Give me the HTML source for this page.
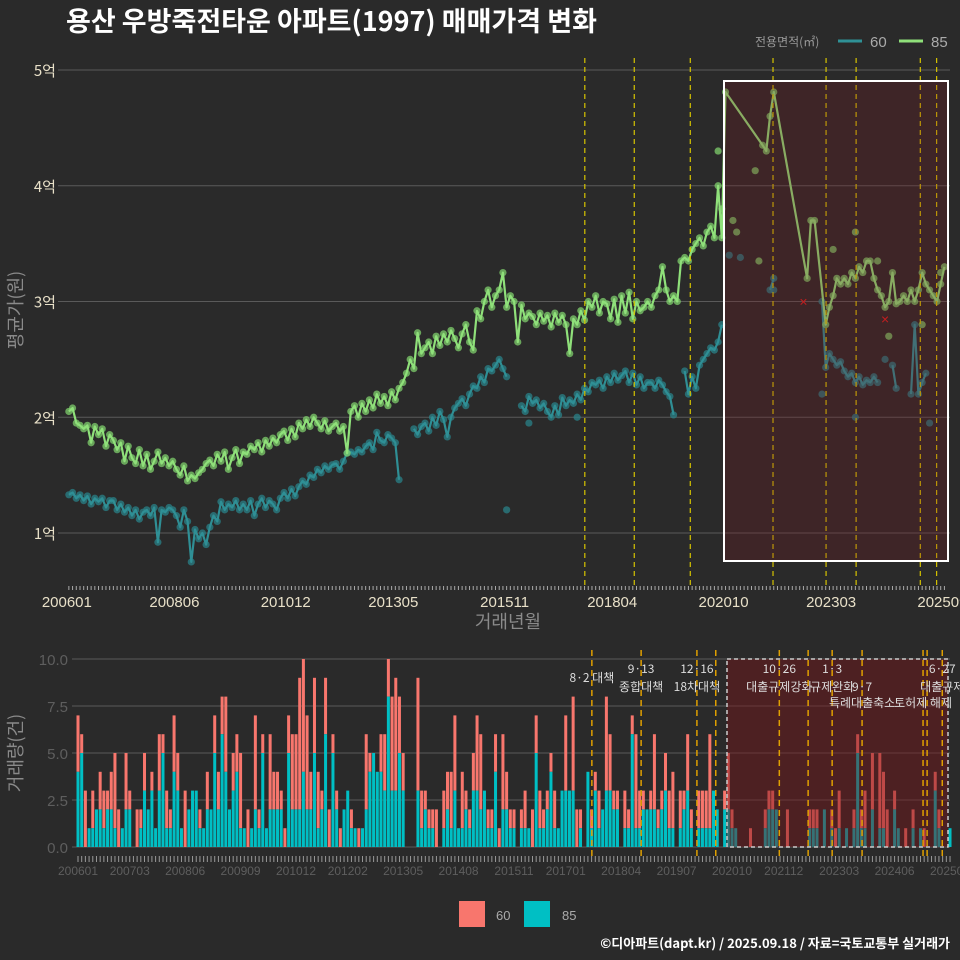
<!DOCTYPE html>
<html><head><meta charset="utf-8">
<style>
html,body{margin:0;padding:0;background:#2a2a2a;}
svg{display:block;font-family:"Liberation Sans","Noto Sans CJK KR",sans-serif;}
</style></head>
<body>
<svg id="chart" width="960" height="960" viewBox="0 0 960 960" xmlns="http://www.w3.org/2000/svg">
<rect x="0" y="0" width="960" height="960" fill="#2a2a2a"/>
<text x="66" y="31" font-size="27" font-weight="bold" fill="#ffffff" font-family="'Noto Sans CJK KR',sans-serif">용산 우방죽전타운 아파트(1997) 매매가격 변화</text>
<g>
<text x="755" y="46" font-size="12" fill="#999" font-family="'Noto Sans CJK KR',sans-serif">전용면적(㎡)</text>
<line x1="838" y1="41" x2="862" y2="41" stroke="#2f9196" stroke-width="3"/>
<text x="870" y="47" font-size="15" fill="#aaa">60</text>
<line x1="899" y1="41" x2="923" y2="41" stroke="#8fe07a" stroke-width="3"/>
<text x="931" y="47" font-size="15" fill="#aaa">85</text>
</g>
<g id="topPanel"></g>
<g id="botPanel"></g>
<g>
<rect x="459" y="901" width="26" height="26" fill="#f8766d"/>
<text x="496" y="920" font-size="13" fill="#aaa">60</text>
<rect x="524" y="901" width="26" height="26" fill="#00bfc4"/>
<text x="562" y="920" font-size="13" fill="#aaa">85</text>
</g>
<text x="950" y="948" text-anchor="end" font-size="13" font-weight="bold" fill="#ffffff" font-family="'Noto Sans CJK KR',sans-serif">©디아파트(dapt.kr) / 2025.09.18 / 자료=국토교통부 실거래가</text>
</svg>
<script>
// ---- price data (억원) ----
const months85 = [200601,200602,200603,200604,200605,200606,200607,200608,200609,200610,200611,200612,200701,200702,200703,200704,200705,200706,200707,200708,200709,200710,200711,200712,200801,200802,200803,200804,200805,200806,200807,200808,200809,200810,200811,200812,200901,200902,200903,200904,200905,200906,200907,200908,200909,200910,200911,200912,201001,201002,201003,201004,201005,201006,201007,201008,201009,201010,201011,201012,201101,201102,201103,201104,201105,201106,201107,201108,201109,201110,201111,201112,201201,201202,201203,201204,201205,201206,201207,201208,201209,201210,201211,201212,201301,201302,201303,201304,201305,201306,201307,201308,201309,201310,201311,201312,201401,201402,201403,201404,201405,201406,201407,201408,201409,201410,201411,201412,201501,201502,201503,201504,201505,201506,201507,201508,201509,201510,201511,201512,201601,201602,201603,201604,201605,201606,201607,201608,201609,201610,201611,201612,201701,201702,201703,201704,201705,201706,201707,201708,201709,201710,201711,201712,201801,201802,201803,201804,201805,201806,201807,201808,201809,201810,201811,201812,201901,201902,201903,201904,201905,201906,201907,201908,201909,201910,201911,201912,202001,202002,202003,202004,202005,202006,202007,202008,202009,202010,202108,202109,202110,202111,202208,202209,202210,202301,202302,202303,202304,202305,202306,202307,202308,202309,202310,202311,202312,202401,202402,202403,202404,202405,202406,202407,202408,202409,202410,202411,202412,202501,202502,202503,202504,202505,202506,202507,202508,202509];
const price85 = [2.05,2.08,1.95,1.93,1.9,1.93,1.78,1.92,1.85,1.9,1.75,1.85,1.8,1.72,1.78,1.62,1.75,1.65,1.6,1.72,1.58,1.68,1.55,1.62,1.7,1.6,1.65,1.58,1.62,1.55,1.5,1.58,1.45,1.5,1.47,1.52,1.55,1.6,1.63,1.58,1.68,1.62,1.7,1.55,1.65,1.72,1.6,1.7,1.68,1.75,1.72,1.78,1.7,1.8,1.75,1.82,1.78,1.85,1.88,1.8,1.9,1.83,1.95,1.9,1.98,1.92,2.0,1.95,1.9,1.97,1.88,1.92,1.95,1.88,1.92,1.69,2.05,2.1,2.0,2.12,2.05,2.15,2.08,2.2,2.12,2.18,2.1,2.22,2.15,2.25,2.3,2.38,2.5,2.42,2.73,2.55,2.6,2.65,2.55,2.7,2.62,2.72,2.65,2.75,2.68,2.6,2.72,2.8,2.65,2.58,2.92,2.85,3.0,3.1,2.95,3.05,3.1,3.25,2.95,3.05,3.0,2.65,2.97,2.85,2.9,2.87,2.8,2.9,2.83,2.88,2.78,2.9,2.82,2.88,2.8,2.55,2.85,2.8,2.92,2.84,3.0,2.95,3.05,2.9,3.0,2.98,2.85,3.02,2.82,3.05,2.9,3.08,2.85,3.0,2.92,2.95,3.0,2.95,3.05,3.1,3.3,3.1,3.0,3.05,3.0,3.35,3.38,3.35,3.45,3.5,3.55,3.48,3.6,3.65,3.55,4.0,3.55,4.81,4.35,4.3,4.6,4.81,3.2,3.7,3.7,2.8,2.95,3.05,3.2,3.15,3.2,3.15,3.25,3.2,3.3,3.25,3.35,3.35,3.2,3.1,3.05,2.95,3.0,3.25,2.98,3.0,3.05,3.0,3.1,3.0,3.1,3.25,3.15,3.1,3.05,3.0,3.15,3.3];
const months60 = [200601,200602,200603,200604,200605,200606,200607,200608,200609,200610,200611,200612,200701,200702,200703,200704,200705,200706,200707,200708,200709,200710,200711,200712,200801,200802,200803,200804,200805,200806,200807,200808,200809,200810,200811,200812,200901,200902,200903,200904,200905,200906,200907,200908,200909,200910,200911,200912,201001,201002,201003,201004,201005,201006,201007,201008,201009,201010,201011,201012,201101,201102,201103,201104,201105,201106,201107,201108,201109,201110,201111,201112,201201,201202,201203,201204,201205,201206,201207,201208,201209,201210,201211,201212,201301,201302,201303,201304,201305,201306,201307,201310,201311,201312,201401,201402,201403,201404,201405,201406,201407,201408,201409,201410,201411,201412,201501,201502,201503,201504,201505,201506,201507,201508,201509,201510,201511,201602,201603,201604,201605,201606,201607,201608,201609,201610,201611,201612,201701,201702,201703,201704,201705,201706,201707,201708,201709,201710,201711,201712,201801,201802,201803,201804,201805,201806,201807,201808,201809,201810,201811,201812,201901,201902,201903,201904,201905,201906,201907,201908,201910,201911,201912,202001,202002,202003,202004,202005,202006,202007,202008,202009,202109,202110,202111,202210,202212,202301,202302,202303,202304,202305,202306,202307,202308,202309,202310,202311,202312,202401,202402,202403,202406,202407,202408,202411,202412,202501,202502,202503,202504];
const price60 = [1.33,1.35,1.3,1.33,1.28,1.32,1.25,1.3,1.27,1.3,1.22,1.28,1.28,1.2,1.25,1.18,1.22,1.15,1.2,1.12,1.18,1.2,1.15,1.22,0.92,1.2,1.18,1.22,1.2,1.15,1.05,1.2,1.1,0.75,1.03,0.95,1.0,0.9,1.05,1.15,1.1,1.27,1.2,1.25,1.22,1.28,1.2,1.25,1.2,1.28,1.15,1.25,1.3,1.22,1.28,1.25,1.2,1.3,1.35,1.3,1.38,1.32,1.4,1.45,1.42,1.5,1.48,1.55,1.52,1.58,1.55,1.59,1.6,1.55,1.62,1.69,1.7,1.68,1.72,1.7,1.75,1.78,1.72,1.87,1.8,1.78,1.85,1.82,1.78,1.46,null,1.9,1.85,1.92,1.95,1.88,2.0,1.93,2.05,1.98,1.83,2.0,2.08,2.12,2.16,2.1,2.2,2.27,2.25,2.35,2.3,2.42,2.4,2.45,2.5,2.42,2.35,null,2.1,2.05,2.18,2.12,2.15,2.08,2.12,2.05,2.0,2.1,2.02,2.17,2.1,2.15,2.12,2.2,2.15,2.25,2.22,2.3,2.28,2.32,2.25,2.35,2.3,2.38,2.32,2.36,2.4,2.3,2.38,2.28,2.35,2.25,2.3,2.3,2.25,2.32,2.28,2.22,2.18,2.02,null,2.4,2.2,2.35,2.25,2.45,2.5,2.55,2.6,2.58,2.65,2.8,null,3.1,3.2,null,3.0,2.43,2.55,2.5,2.45,2.48,2.4,2.35,2.38,2.3,2.35,2.28,2.32,2.3,2.35,2.3,null,2.45,2.25,null,2.2,2.8,2.2,2.3,2.38,2.28];
const extraMonths85 = [202008,202009,202012,202101,202106,202107,202303,202309,202403,202406,202503,202508];
const extraPrice85 = [4.3,3.8,3.7,3.6,4.13,3.35,3.45,3.6,3.35,2.7,2.8,3.25];
const extraMonths60 = [201511,201605,201706,202011,202102,202111,202212,202309,202405,202505];
const extraPrice60 = [1.2,1.95,2.0,3.4,3.38,3.1,2.2,2.0,2.5,1.95];
const markMonths = [202207,202405];
const markPrice = [3.0,2.85];
const policyTop = [139.07,152.4,167.5,189.8,204.1,212.2,229.5,233.9];
const priceTicks = [1,2,3,4,5];
const priceTickLabels = ["1억","2억","3억","4억","5억"];
const topTickMonths = [0,29,59,88,118,147,177,206,236];
const topTickLabels = ["200601","200806","201012","201305","201511","201804","202010","202303","202509"];
// ---- volume data ----
const volTotal = [7,6,3,1,3,2,4,3,3,4, 5,2,1,5,3,0,2,2,5,2, 4,1,6,6,3,2,7,5,1,3, 2,3,3,2,1,4,2,7,4,8, 8,2,5,6,5,1,2,1,7,2, 6,1,6,4,4,3,1,7,6,6, 9,10,7,4,9,4,3,9,2,6, 3,1,2,3,2,1,1,1,6,5, 5,4,6,6,10,8,9,8,5,0, 0,0,9,3,3,2,2,2,0,3, 4,4,7,1,4,3,2,5,7,6, 3,2,2,6,1,6,4,2,2,0, 2,3,1,2,7,3,2,3,5,3, 1,3,7,3,8,2,2,0,4,2, 4,3,2,8,6,3,3,0,3,2, 7,6,3,3,2,3,6,2,3,5, 3,4,0,3,3,6,2,0,3,3, 3,6,3,2,0,3,5,2,1,0, 0,0,1,0,0,0,2,3,3,2, 0,0,2,0,0,0,0,0,2,2, 2,0,2,0,2,1,3,0,1,0, 2,6,2,3,0,5,0,5,4,2, 0,3,1,0,1,0,2,0,1,1, 0,0,4,2,0,0,1];
const vol85 = [4,5,0,1,1,2,2,1,2,2, 1,0,1,2,2,0,0,1,3,2, 3,1,3,5,1,1,4,3,1,0, 2,3,3,1,1,2,2,5,2,6, 4,2,3,4,1,1,0,1,2,1, 5,1,2,2,2,2,0,5,2,2, 2,4,2,2,5,1,2,6,0,5, 2,0,2,3,1,1,0,1,2,4, 5,4,4,3,8,3,3,5,3,0, 0,0,3,1,2,1,1,0,0,1, 2,1,3,1,1,2,1,3,3,2, 3,1,1,4,0,2,2,1,1,0, 1,1,1,0,5,1,1,2,4,1, 1,3,3,3,3,0,1,0,4,1, 3,1,2,3,3,2,2,0,1,1, 6,1,1,2,2,2,2,1,2,3, 1,1,0,1,2,3,1,0,1,1, 1,1,3,2,0,2,2,1,1,0, 0,0,0,0,0,0,1,2,2,2, 0,0,0,0,0,0,0,0,1,1, 1,0,2,0,1,0,1,0,1,0, 1,5,1,1,0,2,0,1,1,0, 0,2,1,0,0,0,1,0,1,0, 0,0,3,1,0,0,1];
const volTicks = [0,2.5,5,7.5,10];
const volTickLabels = ["0.0","2.5","5.0","7.5","10.0"];
const botTickMonths = [0,14,29,44,59,73,88,103,118,132,147,162,177,191,206,221,236];
const botTickLabels = ["200601","200703","200806","200909","201012","201202","201305","201408","201511","201701","201804","201907","202010","202112","202303","202406","202509"];
const policyBot = [139.07,152.4,167.5,172.6,189.8,197.6,204.1,212.2,228.7,229.8,233.9];
const policyLabel1 = ["8·2 대책","9·13","12·16","","10·26","","1·3","","","","6·27"];
const policyLabel2 = ["","종합대책","18차대책","","대출규제강화","","규제완화","9·7","","","대출규제"];
const policyLabel3 = ["","","","","","","","특례대출축소","토허제 해제","",""];

const NS="http://www.w3.org/2000/svg";
function mk(tag,attrs,parent){const e=document.createElementNS(NS,tag);for(const k in attrs)e.setAttribute(k,attrs[k]);parent.appendChild(e);return e;}
function mIdx(m){return (Math.floor(m/100)-2006)*12+(m%100-1);}
const xT=i=>67+(i+0.5)*3.71;
const yT=v=>533-(v-1)*115.75;
const xB=i=>78+i*3.695;
const yB=n=>847-n*18.8;

const topG=document.getElementById('topPanel');
const botG=document.getElementById('botPanel');

// ---- top panel ----
priceTicks.forEach((t,k)=>{
  const g=mk('line',{x1:58,x2:950,y1:yT(t),y2:yT(t),stroke:'#5a5a5a','stroke-width':1},topG);
  
  
  const l=mk('text',{x:56,y:yT(t)+6,'text-anchor':'end','font-size':15,fill:'#e8e0c8','font-family':"'Noto Sans CJK KR',sans-serif"},topG);
  l.textContent=priceTickLabels[k];
  
  
});
for(let i=0;i<237;i++){
  const t=mk('line',{x1:xT(i),x2:xT(i),y1:586,y2:590,stroke:'#aaa','stroke-width':1},topG);
  
  
}
topTickMonths.forEach((m,k)=>{
  const l=mk('text',{x:xT(m)-2,y:607,'text-anchor':'middle','font-size':15,fill:'#e8e0c8'},topG);
  l.textContent=topTickLabels[k];
  
  
});
const xt=mk('text',{x:508,y:628,'text-anchor':'middle','font-size':18,fill:'#8a8a8a','font-family':"'Noto Sans CJK KR',sans-serif"},topG);
xt.textContent='거래년월';


const yt=mk('text',{x:0,y:0,transform:'translate(22,310) rotate(-90)','text-anchor':'middle','font-size':18,fill:'#8a8a8a','font-family':"'Noto Sans CJK KR',sans-serif"},topG);
yt.textContent='평균가(원)';



function drawSeries(months,prices,color,ptColor,name){
  let d='',pen=false;
  months.forEach((m,k)=>{
    const v=prices[k];
    if(v===null){pen=false;return;}
    d+=(pen?'L':'M')+xT(mIdx(m)).toFixed(1)+','+yT(v).toFixed(1);
    pen=true;
  });
  months.forEach((m,k)=>{
    const v=prices[k]; if(v===null)return;
    const c=mk('circle',{cx:xT(mIdx(m)),cy:yT(v),r:3.6,fill:ptColor,'fill-opacity':0.75},topG);
    
    
  });
  const p=mk('path',{d:d,fill:'none',stroke:color,'stroke-width':2.2,'stroke-linejoin':'round'},topG);
  
  
}
function drawExtra(months,prices,col,name){
  months.forEach((m,k)=>{
    const c=mk('circle',{cx:xT(mIdx(m)),cy:yT(prices[k]),r:3.6,fill:col,'fill-opacity':0.75},topG);
    
    
  });
}
drawExtra(extraMonths60,extraPrice60,'#2a8288','extra-point-60');
drawExtra(extraMonths85,extraPrice85,'#7fcf6c','extra-point-85');
drawSeries(months60,price60,'#2f8f95','#2a8288','series-60');
drawSeries(months85,price85,'#8fe07a','#7fcf6c','series-85');
markMonths.forEach((m,k)=>{
  const t=mk('text',{x:xT(mIdx(m)),y:yT(markPrice[k])+5,'text-anchor':'middle','font-size':14,fill:'#e02020'},topG);
  t.textContent='×';
  
  
});
policyTop.forEach(p=>{
  const l=mk('line',{x1:xT(p),x2:xT(p),y1:58,y2:585,stroke:'#d6c400','stroke-width':1.2,'stroke-dasharray':'5,4'},topG);
  
  
});
const hr=mk('rect',{x:724,y:81,width:224,height:480,fill:'rgba(120,25,30,0.26)',stroke:'#ffffff','stroke-width':2},topG);



// ---- bottom panel ----
volTicks.forEach((t,k)=>{
  const g=mk('line',{x1:72,x2:950,y1:yB(t),y2:yB(t),stroke:'#5a5a5a','stroke-width':1},botG);
  
  
  const l=mk('text',{x:68,y:yB(t)+6,'text-anchor':'end','font-size':15,fill:'#5e5e5e'},botG);
  l.textContent=volTickLabels[k];
  
  
});
volTotal.forEach((tot,i)=>{
  const c=vol85[i];
  if(tot>c){
    const r=mk('rect',{x:xB(i)-1.5,y:yB(tot),width:3.0,height:(tot-c)*18.8,fill:'#f8766d'},botG);
    
    
  }
  if(c>0){
    const r=mk('rect',{x:xB(i)-1.5,y:yB(c),width:3.0,height:c*18.8,fill:'#00bfc4'},botG);
    
    
  }
});
for(let i=0;i<237;i++){
  const t=mk('line',{x1:xB(i),x2:xB(i),y1:856,y2:862,stroke:'#999','stroke-width':1},botG);
  
  
}
botTickMonths.forEach((m,k)=>{
  const l=mk('text',{x:xB(m),y:875,'text-anchor':'middle','font-size':12,fill:'#5e5e5e'},botG);
  l.textContent=botTickLabels[k];
  
  
});
const yt2=mk('text',{x:0,y:0,transform:'translate(22,753) rotate(-90)','text-anchor':'middle','font-size':18,fill:'#8a8a8a','font-family':"'Noto Sans CJK KR',sans-serif"},botG);
yt2.textContent='거래량(건)';


const br=mk('rect',{x:727,y:659,width:221,height:188,fill:'rgba(120,20,25,0.45)',stroke:'#cccccc','stroke-width':1.5,'stroke-dasharray':'4,3'},botG);


policyBot.forEach((p,k)=>{
  const l=mk('line',{x1:xB(p),x2:xB(p),y1:650,y2:857,stroke:'#e0a000','stroke-width':1.5,'stroke-dasharray':'6,4'},botG);
  
  
  [[policyLabel1[k],k===0?682:673],[policyLabel2[k],691],[policyLabel3[k],707]].forEach(([s,y])=>{
    if(!s)return;
    const t=mk('text',{x:xB(p),y:y,'text-anchor':'middle','font-size':12,fill:'#dddddd','font-family':"'Noto Sans CJK KR',sans-serif"},botG);
    t.textContent=s;
    
    
  });
});
</script>
</body></html>
